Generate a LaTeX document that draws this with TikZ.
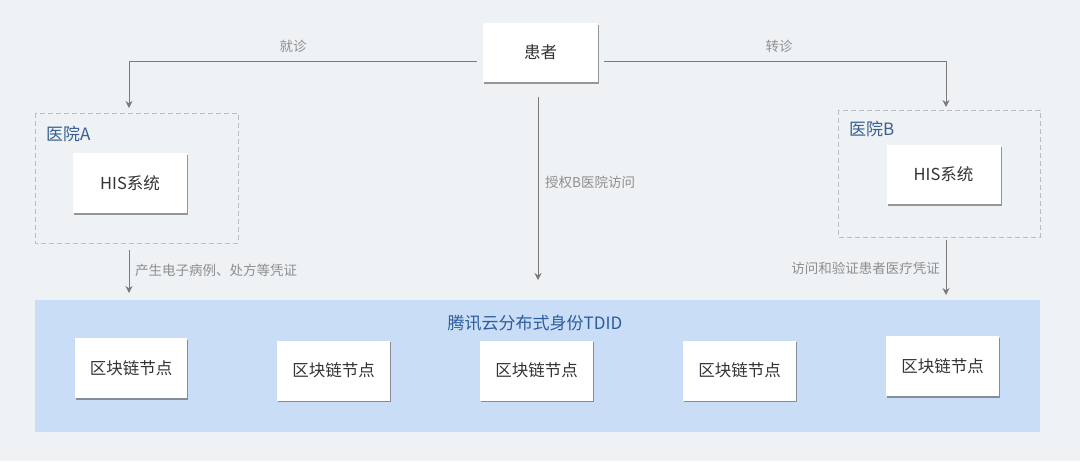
\documentclass[tikz,border=0pt]{standalone}
\usepackage{fontspec}
\setmainfont{Noto Sans CJK SC}
\usetikzlibrary{shadows,arrows.meta,calc}
\definecolor{bgc}{HTML}{EEF2F5}
\definecolor{bandc}{HTML}{C9DDF6}
\definecolor{linec}{HTML}{7A7A7A}
\definecolor{lblc}{HTML}{8E8E8E}
\definecolor{txtc}{HTML}{333333}
\definecolor{hospc}{HTML}{3A5F8F}
\definecolor{tdidc}{HTML}{2D5C9C}
\definecolor{dashc}{HTML}{B8BEC4}
\tikzset{
  wbox/.style={draw=none, fill=white, text=txtc, font=\fontsize{16.5}{18}\selectfont,
    drop shadow={shadow xshift=1.2pt, shadow yshift=-1.8pt, opacity=0.55, fill=black!70},
    minimum width=113pt, minimum height=60pt, inner sep=0pt},
  hosp/.style={draw=dashc, dashed, dash pattern=on 5pt off 3pt, line width=0.8pt, fill=none},
  arr/.style={draw=linec, line width=1pt, -{Stealth[length=7pt,width=7pt]}},
  lbl/.style={text=lblc, font=\fontsize{13.5}{15}\selectfont, inner sep=1pt},
  hlbl/.style={text=hospc, font=\fontsize{17}{19}\selectfont, inner sep=0pt, anchor=west},
}
\begin{document}
\begin{tikzpicture}[x=1pt,y=-1pt]
\path[use as bounding box, fill=bgc] (0,0) rectangle (1080,461);
% blockchain band
\fill[bandc] (35,300) rectangle (1040,432);
\node[text=tdidc, font=\fontsize{17}{19}\selectfont, inner sep=0pt] (tdid) at (535,323) {腾讯云分布式身份TDID};
% hospitals
\draw[hosp] (35,113) rectangle (238,243);
\coordinate (hAtop) at (129,113);
\coordinate (hAbot) at (129,243);
\node[hlbl] (hAl) at (46,134) {医院A};
\draw[hosp] (838,110) rectangle (1040,237);
\coordinate (hBtop) at (946,110);
\coordinate (hBbot) at (946,237);
\node[hlbl] (hBl) at (849,129) {医院B};
% boxes
\node[wbox, minimum width=115pt, minimum height=59pt] (pat) at (540.5,52.5) {患者};
\node[wbox, minimum width=114pt] (hisA) at (130,183) {HIS系统};
\node[wbox, minimum width=114pt, minimum height=59pt] (hisB) at (943.5,174.5) {HIS系统};
\node[wbox, minimum width=112pt] (n1) at (131,368) {区块链节点};
\node[wbox] (n2) at (333.5,370.5) {区块链节点};
\node[wbox] (n3) at (536.5,370.5) {区块链节点};
\node[wbox] (n4) at (739.5,370.5) {区块链节点};
\node[wbox] (n5) at (942.5,366) {区块链节点};
\coordinate (bandA) at (129,300);
\coordinate (bandB) at (946,300);
\coordinate (bandC) at (538,300);
% connectors
\draw[arr] ([xshift=-6pt]pat.west |- 0,61) -| ([yshift=5pt]hAtop);
\node[lbl] (l1) at (293,46) {就诊};
\draw[arr] ([xshift=6pt]pat.east |- 0,61) -| ([yshift=3pt]hBtop);
\node[lbl] (l2) at (779,46) {转诊};
\draw[arr] ([yshift=-15pt]pat.south -| bandC) -- ([yshift=20pt]bandC);
\node[lbl, anchor=west] (l3) at (544,182) {授权B医院访问};
\draw[arr] ([yshift=-7pt]hAbot) -- ([yshift=7pt]bandA);
\node[lbl, anchor=west] (l4) at (134,270) {产生电子病例、处方等凭证};
\draw[arr] ([yshift=-3pt]hBbot) -- ([yshift=5pt]bandB);
\node[lbl, anchor=east] (l5) at (941,268) {访问和验证患者医疗凭证};
\end{tikzpicture}
\end{document}
